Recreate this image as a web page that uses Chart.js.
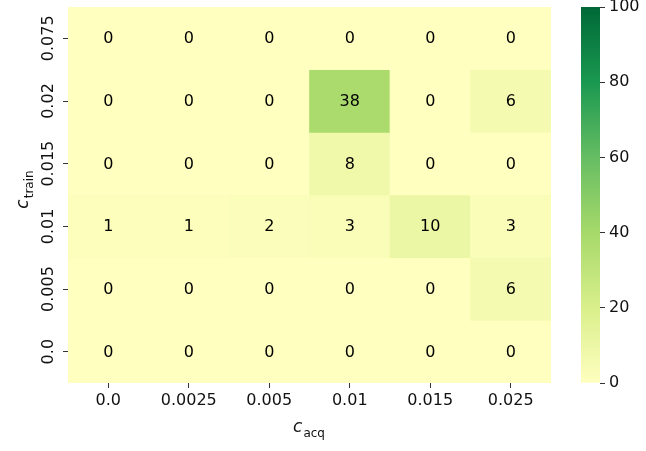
<!DOCTYPE html>
<html>
<head>
<meta charset="utf-8">
<script src="https://cdn.jsdelivr.net/npm/chart.js@4.4.0/dist/chart.umd.min.js"></script>
<style>
    html, body { margin: 0; padding: 0; background: #fff; }
    #wrap { position: relative; width: 646px; height: 451px; }
    #heat { position: absolute; left: 0; top: 0; }
    #bar { position: absolute; left: 560px; top: 0; }
</style>
</head>
<body>
<div id="wrap">
    <canvas id="heat" width="646" height="451"></canvas>
    <canvas id="bar" width="86" height="451"></canvas>
</div>
<script>
// c_acq along x, c_train along y (top to bottom)
const acqLabels = ['0.0', '0.0025', '0.005', '0.01', '0.015', '0.025'];
const trainLabels = ['0.075', '0.02', '0.015', '0.01', '0.005', '0.0'];

const row0075 = [0, 0, 0, 0, 0, 0];
const row002 = [0, 0, 0, 38, 0, 6];
const row0015 = [0, 0, 0, 8, 0, 0];
const row001 = [1, 1, 2, 3, 10, 3];
const row0005 = [0, 0, 0, 0, 0, 6];
const row00 = [0, 0, 0, 0, 0, 0];
const counts = [row0075, row002, row0015, row001, row0005, row00];

const colorbarMin = 0;
const colorbarMax = 100;
const colorbarStep = 20;

// upper half of RdYlGn
const CMAP = ['#ffffbf', '#d9ef8b', '#a6d96a', '#66bd63', '#1a9850', '#006837'];
const FONT = 'DejaVu Sans';
const TEXT = '#111';
const TICK = '#333';

function hexToRgb(h) {
    return [1, 3, 5].map(i => parseInt(h.slice(i, i + 2), 16));
}

function cmap(v) {
    const t = Math.max(0, Math.min(1, (v - colorbarMin) / (colorbarMax - colorbarMin))) * (CMAP.length - 1);
    const i = Math.min(Math.floor(t), CMAP.length - 2);
    const f = t - i;
    const a = hexToRgb(CMAP[i]);
    const b = hexToRgb(CMAP[i + 1]);
    const c = a.map((x, k) => Math.round(x + (b[k] - x) * f));
    return `rgb(${c[0]}, ${c[1]}, ${c[2]})`;
}

Chart.defaults.font.family = FONT;
Chart.defaults.color = TEXT;

function drawSubscripted(ctx, main, sub, cx, baseY) {
    ctx.font = `italic 17px ${FONT}`;
    const w1 = ctx.measureText(main).width;
    ctx.font = `12px ${FONT}`;
    const w2 = ctx.measureText(sub).width;
    const x0 = cx - (w1 + w2) / 2;
    ctx.textAlign = 'left';
    ctx.textBaseline = 'alphabetic';
    ctx.font = `italic 17px ${FONT}`;
    ctx.fillText(main, x0, baseY);
    ctx.font = `12px ${FONT}`;
    ctx.fillText(sub, x0 + w1 + 1, baseY + 5);
}

const heatText = {
    id: 'heatText',
    afterDatasetsDraw(chart) {
        const ctx = chart.ctx;
        ctx.save();
        ctx.fillStyle = '#000';
        ctx.font = `16px ${FONT}`;
        ctx.textAlign = 'center';
        ctx.textBaseline = 'middle';
        counts.forEach((row, i) => {
            chart.getDatasetMeta(i).data.forEach((bar, j) => {
                ctx.fillText(String(row[j]), bar.x, (bar.y + bar.base) / 2 + 1);
            });
        });
        ctx.restore();
    },
    afterDraw(chart) {
        const ctx = chart.ctx;
        const yScale = chart.scales.y;
        const area = chart.chartArea;
        ctx.save();
        ctx.fillStyle = TEXT;
        // y tick labels, rotated
        ctx.font = `16px ${FONT}`;
        yScale.ticks.forEach((tick, i) => {
            ctx.save();
            ctx.translate(49, yScale.getPixelForValue(tick.value));
            ctx.rotate(-Math.PI / 2);
            ctx.textAlign = 'center';
            ctx.textBaseline = 'middle';
            ctx.fillText(trainLabels[i], 0, 0);
            ctx.restore();
        });
        // axis titles
        drawSubscripted(ctx, 'c', 'acq', (area.left + area.right) / 2 - 1, 432);
        ctx.translate(28, (area.top + area.bottom) / 2 - 5);
        ctx.rotate(-Math.PI / 2);
        drawSubscripted(ctx, 'c', 'train', 0, 0);
        ctx.restore();
    }
};

new Chart(document.getElementById('heat'), {
    type: 'bar',
    data: {
        labels: acqLabels,
        datasets: trainLabels.map((label, i) => ({
            label: label,
            data: counts[i].map(() => [trainLabels.length - 1 - i, trainLabels.length - i]),
            backgroundColor: counts[i].map(cmap),
            borderWidth: 0,
            barPercentage: 1,
            categoryPercentage: 1,
            grouped: false
        }))
    },
    options: {
        responsive: false,
        animation: false,
        layout: {padding: {left: 0, right: 95, top: 7, bottom: 0}},
        plugins: {legend: {display: false}, tooltip: {enabled: false}},
        scales: {
            x: {
                type: 'category',
                offset: true,
                grid: {offset: false, drawOnChartArea: false, tickLength: 5, color: TICK},
                border: {display: false},
                ticks: {font: {size: 16}, color: TEXT, padding: 3, maxRotation: 0},
                afterFit: s => { s.height = 68; s.paddingLeft = 0; s.paddingRight = 0; }
            },
            y: {
                type: 'linear',
                min: 0,
                max: trainLabels.length,
                afterBuildTicks: s => {
                    s.ticks = trainLabels.map((_, i) => ({value: trainLabels.length - 0.5 - i}));
                },
                grid: {drawOnChartArea: false, tickLength: 5, color: TICK},
                border: {display: false},
                ticks: {display: false},
                afterFit: s => { s.width = 68; s.paddingTop = 0; s.paddingBottom = 0; }
            }
        }
    },
    plugins: [heatText]
});

new Chart(document.getElementById('bar'), {
    type: 'bar',
    data: {
        labels: [''],
        datasets: [{
            data: [[colorbarMin, colorbarMax]],
            backgroundColor: (context) => {
                const chart = context.chart;
                const area = chart.chartArea;
                if (!area) return CMAP[0];
                const g = chart.ctx.createLinearGradient(0, area.bottom, 0, area.top);
                CMAP.forEach((c, i) => g.addColorStop(i / (CMAP.length - 1), c));
                return g;
            },
            borderWidth: 0,
            barPercentage: 1,
            categoryPercentage: 1
        }]
    },
    options: {
        responsive: false,
        animation: false,
        layout: {padding: {left: 21, right: 0, top: 7, bottom: 68}},
        plugins: {legend: {display: false}, tooltip: {enabled: false}},
        scales: {
            x: {display: false, offset: true},
            y: {
                position: 'right',
                min: colorbarMin,
                max: colorbarMax,
                ticks: {stepSize: colorbarStep, font: {size: 16}, color: TEXT, padding: 4},
                grid: {drawOnChartArea: false, tickLength: 5, color: TICK},
                border: {display: false},
                afterFit: s => { s.width = 46; s.paddingTop = 0; s.paddingBottom = 0; }
            }
        }
    }
});
</script>
</body>
</html>
